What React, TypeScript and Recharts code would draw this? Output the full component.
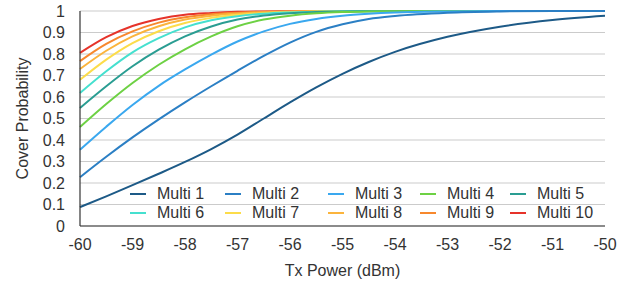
import React from 'react';
import { LineChart, Line, XAxis, YAxis, CartesianGrid } from 'recharts';

const xValues = [-60, -59.5, -59, -58.5, -58, -57.5, -57, -56.5, -56, -55.5, -55, -54.5, -54, -53, -52, -51, -50];

const multi1 = [0.088, 0.138, 0.19, 0.243, 0.298, 0.358, 0.425, 0.5, 0.575, 0.645, 0.708, 0.763, 0.81, 0.88, 0.927, 0.958, 0.978];
const multi2 = [0.227, 0.322, 0.412, 0.496, 0.575, 0.65, 0.722, 0.791, 0.853, 0.903, 0.938, 0.963, 0.977, 0.992, 0.998, 1, 1];
const multi3 = [0.355, 0.462, 0.563, 0.652, 0.728, 0.797, 0.858, 0.905, 0.94, 0.963, 0.978, 0.987, 0.993, 0.998, 1, 1, 1];
const multi4 = [0.46, 0.567, 0.665, 0.75, 0.822, 0.882, 0.929, 0.96, 0.978, 0.989, 0.995, 0.998, 0.999, 1, 1, 1, 1];
const multi5 = [0.549, 0.65, 0.743, 0.82, 0.882, 0.928, 0.96, 0.979, 0.99, 0.995, 0.998, 0.999, 1, 1, 1, 1, 1];
const multi6 = [0.619, 0.72, 0.808, 0.874, 0.924, 0.957, 0.976, 0.987, 0.993, 0.997, 0.999, 1, 1, 1, 1, 1, 1];
const multi7 = [0.68, 0.774, 0.851, 0.906, 0.944, 0.968, 0.982, 0.99, 0.995, 0.998, 1, 1, 1, 1, 1, 1, 1];
const multi8 = [0.73, 0.815, 0.882, 0.929, 0.96, 0.978, 0.988, 0.994, 0.997, 0.999, 1, 1, 1, 1, 1, 1, 1];
const multi9 = [0.767, 0.847, 0.905, 0.946, 0.971, 0.985, 0.992, 0.996, 0.998, 1, 1, 1, 1, 1, 1, 1, 1];
const multi10 = [0.805, 0.878, 0.93, 0.963, 0.983, 0.991, 0.996, 0.998, 0.999, 1, 1, 1, 1, 1, 1, 1, 1];

const seriesNames = ['Multi 1', 'Multi 2', 'Multi 3', 'Multi 4', 'Multi 5', 'Multi 6', 'Multi 7', 'Multi 8', 'Multi 9', 'Multi 10'];
const seriesValues = [multi1, multi2, multi3, multi4, multi5, multi6, multi7, multi8, multi9, multi10];
const seriesColors = ['#1d5a87', '#2b7fc4', '#3aa8ef', '#6dd144', '#2a9d92', '#45e0cf', '#fcdc4a', '#fbb43c', '#f7882d', '#e6332a'];

const xTicks = [-60, -59, -58, -57, -56, -55, -54, -53, -52, -51, -50];
const yTicks = [0, 0.1, 0.2, 0.3, 0.4, 0.5, 0.6, 0.7, 0.8, 0.9, 1];

const FONT = '"Liberation Sans", Arial, Helvetica, sans-serif';
const TEXT = '#333';

const data = xValues.map((x, i) => {
  const row: Record<string, number> = { x };
  seriesValues.forEach((vals, s) => {
    row['m' + (s + 1)] = vals[i];
  });
  return row;
});

const YTitle = (props: any) => {
  const vb = props.viewBox || { x: 0, y: 11, width: 80, height: 215 };
  const cy = vb.y + vb.height / 2;
  const cx = 22;
  return (
    <text
      x={cx}
      y={cy}
      transform={`rotate(-90, ${cx}, ${cy})`}
      textAnchor="middle"
      dominantBaseline="central"
      fill={TEXT}
      fontSize={16}
      fontFamily={FONT}
    >
      Cover Probability
    </text>
  );
};

const legendCols = ['95px', '103px', '92px', '90px', 'auto'];

export default function App() {
  const order = seriesNames.map((_, i) => i).reverse();
  return (
    <div style={{ position: 'absolute', left: 0, top: 0, width: 631, height: 287, background: '#fff' }}>
      <LineChart width={631} height={287} data={data} margin={{ top: 11, right: 26, bottom: 0, left: 0 }}>
        <CartesianGrid vertical={false} stroke="#cbcbcb" strokeWidth={1.1} />
        <XAxis
          dataKey="x"
          type="number"
          domain={[-60, -50]}
          ticks={xTicks}
          interval={0}
          height={61}
          tickLine={false}
          tickSize={0}
          tickMargin={13}
          axisLine={{ stroke: '#333', strokeWidth: 1.2 }}
          tick={{ fill: TEXT, fontSize: 16, fontFamily: FONT }}
          label={{ value: 'Tx Power (dBm)', position: 'insideBottom', offset: 11, fill: TEXT, fontSize: 16, fontFamily: FONT }}
        />
        <YAxis
          type="number"
          domain={[0, 1]}
          ticks={yTicks}
          interval={0}
          width={80}
          tickLine={false}
          tickSize={0}
          tickMargin={15}
          axisLine={{ stroke: '#333', strokeWidth: 1.2 }}
          tick={{ fill: TEXT, fontSize: 16, fontFamily: FONT }}
          label={{ content: YTitle }}
        />
        {order.map((s) => (
          <Line
            key={seriesNames[s]}
            dataKey={'m' + (s + 1)}
            name={seriesNames[s]}
            type="monotone"
            stroke={seriesColors[s]}
            strokeWidth={2}
            dot={false}
            activeDot={false}
            isAnimationActive={false}
          />
        ))}
      </LineChart>
      <div
        style={{
          position: 'absolute',
          left: 130,
          top: 184,
          display: 'grid',
          gridTemplateColumns: legendCols.join(' '),
          gridAutoRows: '19.5px',
          fontFamily: FONT,
          fontSize: 16,
          color: TEXT,
        }}
      >
        {seriesNames.map((name, i) => (
          <div key={name} style={{ display: 'flex', alignItems: 'center', whiteSpace: 'nowrap' }}>
            <span style={{ display: 'inline-block', width: 16, height: 2, background: seriesColors[i], marginRight: 11 }} />
            <span>{name}</span>
          </div>
        ))}
      </div>
    </div>
  );
}
